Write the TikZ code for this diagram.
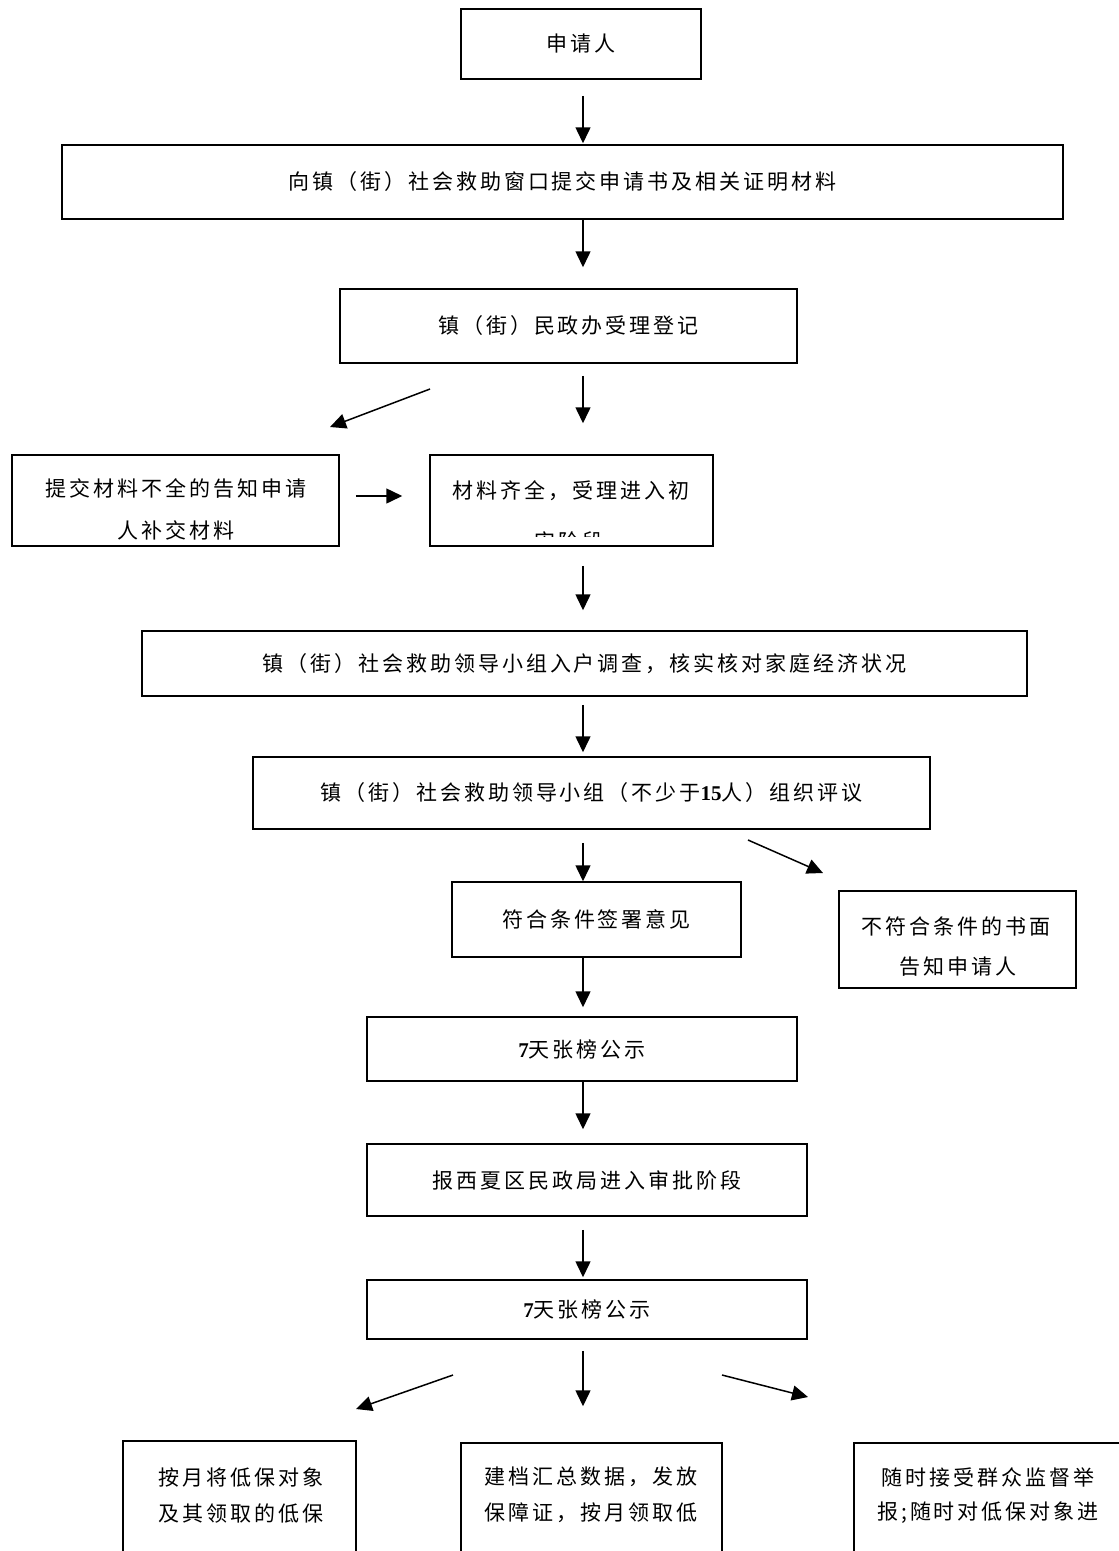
\documentclass[tikz,border=0pt]{standalone}
\usepackage{fontspec}
\newfontfamily\cjk{Noto Sans CJK SC}[LetterSpace=14]
\newfontfamily\lat{Liberation Serif}
\newcommand{\dg}[1]{{\lat\bfseries #1}}
\usetikzlibrary{arrows.meta,calc}
\begin{document}
\begin{tikzpicture}[x=1pt,y=-1pt,
  box/.style={draw, line width=1.5pt, inner sep=0pt, font=\cjk\fontsize{21}{21}\selectfont},
  lbl/.style={inner sep=0pt, anchor=center, font=\cjk\fontsize{21}{21}\selectfont},
  arr/.style={line width=1.5pt, -{Triangle[length=16pt,width=15pt]}}]
\path[use as bounding box] (0,0) rectangle (1119,1551);
\clip (0,0) rectangle (1119,1551);
\coordinate (ax) at (583,0);
% boxes
\node[box, minimum width=240pt, minimum height=70pt] (n1) at (581,44) {申请人};
\node[box, minimum width=1001pt, minimum height=74pt] (n2) at (562.5,182) {向镇（街）社会救助窗口提交申请书及相关证明材料};
\node[box, minimum width=457pt, minimum height=74pt] (n3) at (568.5,326) {镇（街）民政办受理登记};
\node[box, minimum width=327pt, minimum height=91pt] (n4a) at (175.5,500.5) {};
\node[box, minimum width=283pt, minimum height=91pt] (n4b) at (571.5,500.5) {};
\node[box, minimum width=885pt, minimum height=65pt] (n5) at (584.5,663.5) {镇（街）社会救助领导小组入户调查，核实核对家庭经济状况};
\node[box, minimum width=677pt, minimum height=72pt] (n6) at (591.5,793) {镇（街）社会救助领导小组（不少于\dg{15}人）组织评议};
\node[box, minimum width=289pt, minimum height=75pt] (n7) at (596.5,919.5) {符合条件签署意见};
\node[box, minimum width=237pt, minimum height=97pt] (n8) at (957.5,939.5) {};
\node[box, minimum width=430pt, minimum height=64pt] (n9) at (582,1049) {\dg{7}天张榜公示};
\node[box, minimum width=440pt, minimum height=72pt] (n10) at (587,1180) {报西夏区民政局进入审批阶段};
\node[box, minimum width=440pt, minimum height=59pt] (n11) at (587,1309.5) {\dg{7}天张榜公示};
\node[box, minimum width=233pt, minimum height=129pt] (n12a) at (239.5,1505.5) {};
\node[box, minimum width=261pt, minimum height=127pt] (n12b) at (591.5,1506.5) {};
\node[box, minimum width=271pt, minimum height=127pt] (n12c) at (989.5,1506.5) {};
% multi-line texts
\begin{scope}
\clip ($(n4a.north west)+(2,2)$) rectangle ($(n4a.south east)+(-2,-7)$);
\node[lbl] (t4a1) at (176,488) {提交材料不全的告知申请};
\node[lbl] (t4a2) at (176,530) {人补交材料};
\end{scope}
\begin{scope}
\clip ($(n4b.north west)+(2,2)$) rectangle ($(n4b.south east)+(-2,-10)$);
\node[lbl] (t4b1) at (571,491) {材料齐全，受理进入初};
\node[lbl] (t4b2) at (569,541) {审阶段};
\end{scope}
\node[lbl] (t81) at (956,926) {不符合条件的书面};
\node[lbl] (t82) at (958,967) {告知申请人};
\node[lbl] (t12a1) at (241,1477) {按月将低保对象};
\node[lbl] (t12a2) at (241,1513) {及其领取的低保};
\node[lbl] (t12b1) at (591,1477) {建档汇总数据，发放};
\node[lbl] (t12b2) at (591,1513) {保障证，按月领取低};
\node[lbl] (t12c1) at (988,1477) {随时接受群众监督举};
\node[lbl] (t12c2) at (988,1513) {报;随时对低保对象进};
% vertical arrows
\draw[arr] ($(n1.south -| ax)+(0,16)$) -- ($(n2.north -| ax)+(0,-1)$);
\draw[arr] (n2.south -| ax) -- ($(n3.north -| ax)+(0,-21)$);
\draw[arr] ($(n3.south -| ax)+(0,12)$) -- ($(n4b.north -| ax)+(0,-31)$);
\draw[arr] ($(n4a.east)+(16,-4.5)$) -- ($(n4b.west)+(-27,-4.5)$);
\draw[arr] ($(n4b.south -| ax)+(0,19)$) -- ($(n5.north -| ax)+(0,-20)$);
\draw[arr] ($(n5.south -| ax)+(0,8)$) -- ($(n6.north -| ax)+(0,-4)$);
\draw[arr] ($(n6.south -| ax)+(0,13)$) -- (n7.north -| ax);
\draw[arr] (n7.south -| ax) -- ($(n9.north -| ax)+(0,-9)$);
\draw[arr] (n9.south -| ax) -- ($(n10.north -| ax)+(0,-14)$);
\draw[arr] ($(n10.south -| ax)+(0,13)$) -- ($(n11.north -| ax)+(0,-2)$);
\draw[arr] ($(n11.south -| ax)+(0,11)$) -- ($(n12b.north -| ax)+(0,-36)$);
% diagonal arrows
\coordinate (d1s) at (430,389); \coordinate (d1e) at (330,427);
\coordinate (d2s) at (748,840); \coordinate (d2e) at (823,873);
\coordinate (d3s) at (453,1375); \coordinate (d3e) at (356,1409);
\coordinate (d4s) at (722,1375); \coordinate (d4e) at (808,1397);
\draw[arr] (d1s) -- (d1e);
\draw[arr] (d2s) -- (d2e);
\draw[arr] (d3s) -- (d3e);
\draw[arr] (d4s) -- (d4e);
\end{tikzpicture}
\end{document}
